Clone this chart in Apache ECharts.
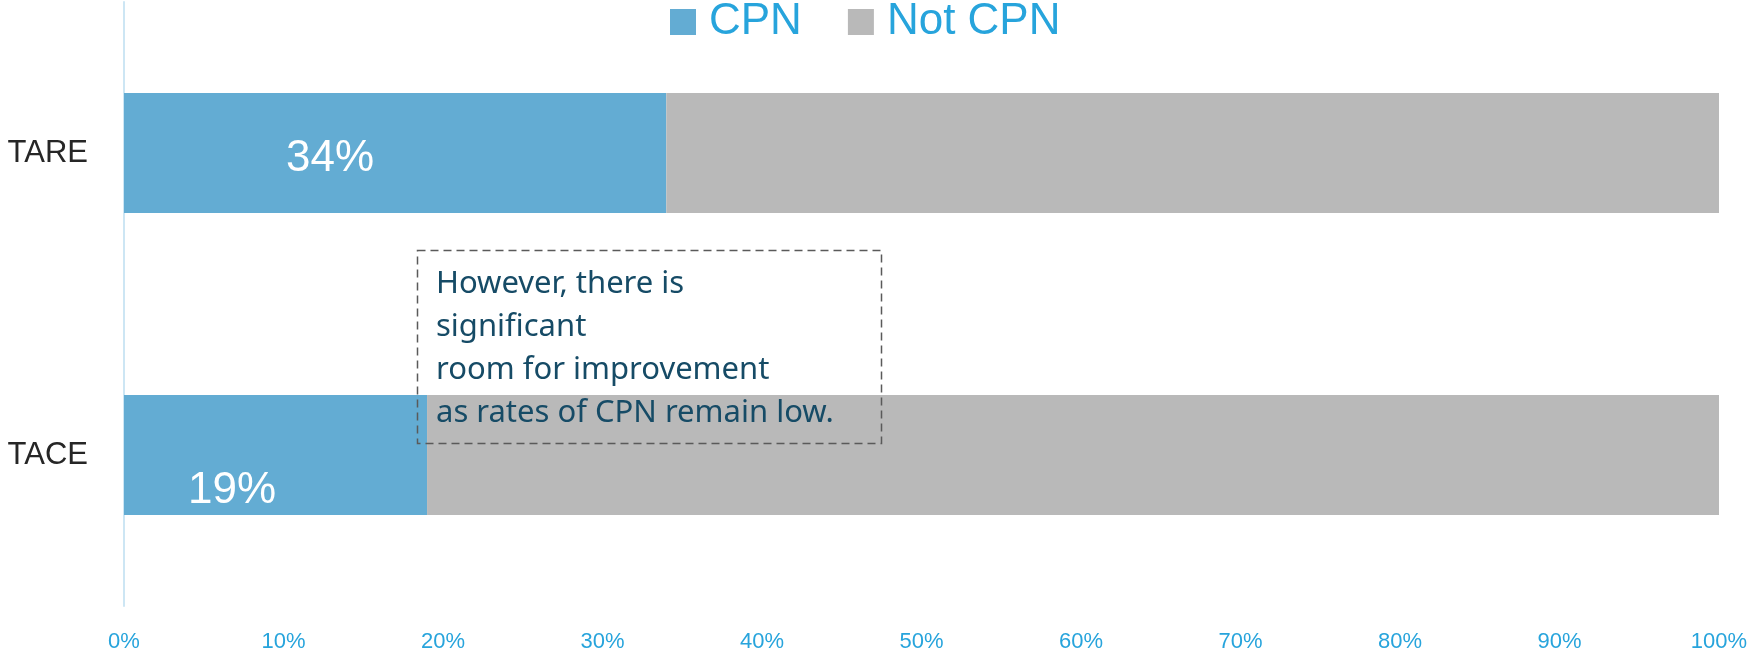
<!DOCTYPE html>
<html>
<head>
<meta charset="utf-8">
<script src="https://cdn.jsdelivr.net/npm/echarts@6/dist/echarts.min.js"></script>
<style>
  html, body { margin: 0; padding: 0; background: #ffffff; }
  #chart { width: 1747px; height: 648px; }
</style>
</head>
<body>
<div id="chart"></div>
<script>
// Share of patients receiving CPN, by procedure
const categories = ['TARE', 'TACE'];
const seriesNames = ['CPN', 'Not CPN'];
const cpnValues = [34, 19];
const notCpnValues = [66, 81];
const xTicks = [0, 10, 20, 30, 40, 50, 60, 70, 80, 90, 100];
const noteLines = [
  'However, there is',
  'significant',
  'room for improvement',
  'as rates of CPN remain low.'
];

// Where each CPN value label sits inside its bar (px from the bar's top-left)
const cpnLabelPos = [[162, 66], [64, 96]];

const BLUE = '#63ACD3';
const GREY = '#B9B9B9';
const ACCENT = '#27A4DC';

const chart = echarts.init(document.getElementById('chart'));

const cpnData = cpnValues.map((v, i) => ({
  value: v,
  label: { position: cpnLabelPos[i] }
}));

chart.setOption({
  animation: false,
  legend: {
    data: seriesNames,
    left: 670,
    top: -2,
    padding: 0,
    itemWidth: 26,
    itemHeight: 26,
    itemGap: 46,
    icon: 'rect',
    textStyle: {
      color: ACCENT,
      fontFamily: 'Liberation Sans',
      fontSize: 44,
      lineHeight: 48,
      padding: [0, 0, 0, 8]
    }
  },
  grid: {
    left: 124, right: 28, top: 2, bottom: 42,
    containLabel: false,
    outerBoundsMode: 'none'
  },
  xAxis: {
    type: 'value',
    min: xTicks[0],
    max: xTicks[xTicks.length - 1],
    interval: 10,
    splitLine: { show: false },
    axisLine: { show: false },
    axisTick: { show: false },
    axisLabel: {
      margin: 25,
      color: ACCENT,
      fontFamily: 'Liberation Sans',
      fontSize: 22,
      formatter: v => v + '%'
    }
  },
  yAxis: {
    type: 'category',
    data: categories,
    inverse: true,
    axisLine: { show: true, lineStyle: { color: '#CDE6F4', width: 2 } },
    axisTick: { show: false },
    axisLabel: {
      margin: 36,
      color: '#262626',
      fontFamily: 'Liberation Sans',
      fontSize: 31
    }
  },
  series: [
    {
      name: seriesNames[0],
      type: 'bar',
      stack: 'total',
      barWidth: 120,
      itemStyle: { color: BLUE },
      label: {
        show: true,
        color: '#ffffff',
        fontFamily: 'Liberation Sans',
        fontSize: 44,
        align: 'left',
        verticalAlign: 'middle',
        formatter: p => p.value + '%'
      },
      data: cpnData
    },
    {
      name: seriesNames[1],
      type: 'bar',
      stack: 'total',
      barWidth: 120,
      itemStyle: { color: GREY },
      data: notCpnValues
    }
  ],
  graphic: [
    {
      type: 'rect',
      left: 415,
      top: 248,
      shape: { width: 464, height: 193 },
      style: {
        fill: 'none',
        stroke: '#5A5A5A',
        lineWidth: 1.5,
        lineDash: [8, 5]
      },
      z: 10
    },
    {
      type: 'text',
      left: 436,
      top: 263,
      style: {
        text: noteLines.join('\n'),
        fill: '#164B66',
        fontFamily: 'Noto Sans',
        fontSize: 31,
        lineHeight: 43
      },
      z: 11
    }
  ]
});
</script>
</body>
</html>
